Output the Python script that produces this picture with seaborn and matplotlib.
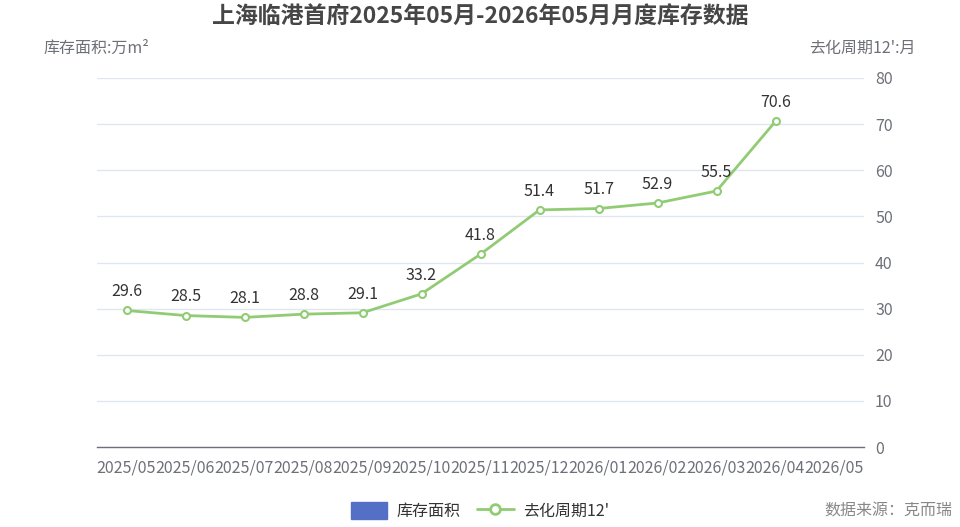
import numpy as np
import pandas as pd
import matplotlib
matplotlib.use("Agg")
import matplotlib.pyplot as plt
import seaborn as sns
from matplotlib.patches import Patch
from matplotlib.lines import Line2D

sns.set_theme(style="white")
plt.rcParams['font.family'] = ['Noto Sans CJK SC', 'DejaVu Sans']

# Data
months = ["2025/05", "2025/06", "2025/07", "2025/08", "2025/09", "2025/10", "2025/11",
          "2025/12", "2026/01", "2026/02", "2026/03", "2026/04", "2026/05"]
cycle_months = [29.6, 28.5, 28.1, 28.8, 29.1, 33.2, 41.8, 51.4, 51.7, 52.9, 55.5, 70.6]
y_ticks = [0, 10, 20, 30, 40, 50, 60, 70, 80]

GREEN = "#91CC75"
BLUE = "#5470C6"
AXIS_GREY = "#6E7079"
GRID = "#E0E6F1"

df = pd.DataFrame({"pos": np.arange(len(cycle_months)) + 0.5, "value": cycle_months})

fig = plt.figure(figsize=(9.6, 5.27), dpi=100)
ax = fig.add_axes([97 / 960, 80 / 527, (864 - 97) / 960, (447 - 78) / 527])

sns.lineplot(data=df, x="pos", y="value", ax=ax, color=GREEN, linewidth=2,
             marker="o", markersize=5, markerfacecolor="white",
             markeredgecolor=GREEN, markeredgewidth=1.5, zorder=3)

for x, v in zip(df["pos"], df["value"]):
    ax.text(x, v + 2.2, f"{v:.1f}", ha="center", va="bottom", fontsize=11.5, color="#333333")

ax.set_xlim(0, len(months))
ax.set_ylim(0, 80)
ax.set_xticks(np.arange(len(months) + 1))
ax.set_xticklabels([])
ax.tick_params(axis="x", length=5, color=AXIS_GREY, width=1, direction="out")
for i, m in enumerate(months):
    ax.text(i - 0.02, -2.8, m, ha="left", va="top", fontsize=11.5, color=AXIS_GREY)

ax.yaxis.tick_right()
ax.set_yticks(y_ticks)
ax.tick_params(axis="y", length=0, labelsize=11.5, labelcolor=AXIS_GREY, pad=8)
ax.grid(axis="y", color=GRID, linewidth=1)
ax.set_axisbelow(True)
ax.set_xlabel("")
ax.set_ylabel("")
for s in ["top", "left", "right"]:
    ax.spines[s].set_visible(False)
ax.spines["bottom"].set_color(AXIS_GREY)
ax.spines["bottom"].set_linewidth(1)

fig.text(0.5, 1 - 17 / 527, "上海临港首府2025年05月-2026年05月月度库存数据", ha="center", va="center",
         fontsize=16.5, fontweight="bold", color="#464646")
fig.text(44 / 960, 1 - 48 / 527, "库存面积:万m²", ha="left", va="center", fontsize=11.5, color=AXIS_GREY)
fig.text(916 / 960, 1 - 48 / 527, "去化周期12':月", ha="right", va="center", fontsize=11.5, color=AXIS_GREY)

handles = [Patch(facecolor=BLUE, edgecolor=BLUE),
           Line2D([0], [0], color=GREEN, linewidth=2, marker="o", markersize=7,
                  markerfacecolor="white", markeredgecolor=GREEN, markeredgewidth=2)]
fig.legend(handles, ["库存面积", "去化周期12'"], loc="center", bbox_to_anchor=(0.5, 1 - 511 / 527),
           ncol=2, frameon=False, fontsize=11.5, handlelength=2.3, handleheight=1.3,
           columnspacing=1.0, handletextpad=0.6, labelcolor="#333333")
fig.text(952 / 960, 1 - 511 / 527, "数据来源：克而瑞", ha="right", va="center", fontsize=11.5, color="#888888")

fig.savefig("out.png", dpi=100)
